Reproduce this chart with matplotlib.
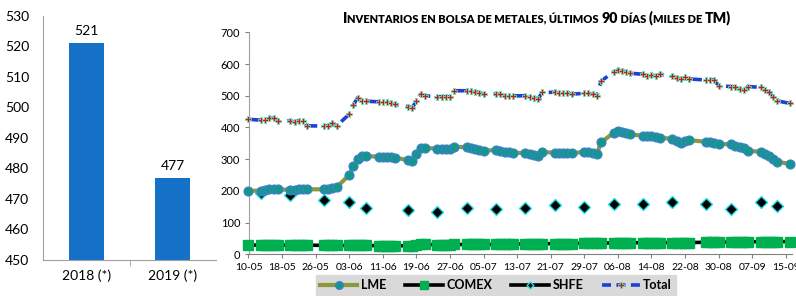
import matplotlib
matplotlib.use('Agg')
import matplotlib.pyplot as plt
import matplotlib.dates as mdates
from matplotlib.lines import Line2D
import pandas as pd

plt.rcParams['font.family'] = ['Lato', 'DejaVu Sans']

# ---- datos: barras (promedio anual) ----
anios = ['2018 (*)', '2019 (*)']
promedio = [521, 477]

# ---- datos: inventarios diarios (miles de TM) ----
fechas = pd.bdate_range('2019-05-10', '2019-09-16')
fechas = fechas.drop(pd.to_datetime(['2019-05-27', '2019-08-26']))  # feriados LME

lme = [200,
       201, 203, 205, 205, 205,
       203, 204, 205, 205, 205,
       205, 207, 210, 212,
       250, 278, 300, 310, 310,
       308, 307, 306, 306, 305,
       297, 294, 315, 336, 336,
       333, 333, 333, 333, 340,
       337, 336, 332, 329, 327,
       329, 327, 324, 322, 320,
       320, 316, 313, 310, 322,
       321, 320, 318, 318, 318,
       324, 324, 320, 316, 353,
       383, 389, 385, 383, 378,
       374, 373, 372, 370, 368,
       364, 357, 352, 357, 360,
       355, 353, 352, 348,
       347, 342, 338, 334, 326,
       324, 316, 310, 302, 292,
       285]

comex = [29,
         29, 29, 29, 29, 29,
         29, 29, 29, 29, 29,
         28, 28, 28, 28,
         28, 28, 28, 28, 28,
         27, 27, 27, 27, 27,
         27, 27, 28, 33, 31,
         30, 30, 30, 30, 31,
         31, 31, 31, 31, 31,
         31, 32, 32, 32, 32,
         33, 33, 33, 33, 33,
         34, 34, 34, 34, 34,
         35, 35, 35, 35, 35,
         36, 36, 36, 36, 36,
         37, 37, 37, 37, 37,
         37, 37, 37, 37, 37,
         38, 38, 38, 38,
         39, 39, 39, 39, 39,
         40, 40, 40, 40, 40,
         40]

total = [426,
         423, 423, 429, 429, 421,
         420, 418, 421, 420, 405,
         405, 405, 413, 405,
         442, 471, 494, 483, 483,
         481, 479, 479, 476, 473,
         466, 462, 484, 505, 500,
         497, 497, 497, 497, 516,
         516, 516, 513, 510, 505,
         505, 505, 500, 500, 500,
         500, 497, 494, 490, 511,
         511, 508, 508, 510, 505,
         508, 508, 505, 500, 546,
         576, 581, 578, 576, 571,
         568, 563, 565, 563, 568,
         563, 557, 553, 560, 553,
         550, 550, 550, 532,
         529, 527, 521, 518, 529,
         527, 518, 511, 495, 484,
         476]

shfe_fechas = pd.to_datetime(['2019-05-13', '2019-05-20', '2019-05-28', '2019-06-03', '2019-06-07',
                              '2019-06-17', '2019-06-24', '2019-07-01', '2019-07-08', '2019-07-15',
                              '2019-07-22', '2019-07-29', '2019-08-05', '2019-08-12', '2019-08-19',
                              '2019-08-27', '2019-09-02', '2019-09-09', '2019-09-13'])
shfe = [194, 187, 171, 164, 145, 140, 134, 147, 142, 145,
        155, 150, 158, 158, 164, 158, 143, 164, 153]

W, H = 796, 296
fig = plt.figure(figsize=(W / 100, H / 100), dpi=100)

# ================= barras =================
ax1 = fig.add_axes([43 / W, 1 - 260 / H, 173 / W, 244 / H])
ax1.bar(range(len(anios)), promedio, width=0.4, color='#1570c8')
for i, v in enumerate(promedio):
    ax1.text(i, v + 2, str(v), ha='center', va='bottom', fontsize=10)
ax1.set_ylim(450, 530)
ax1.set_yticks(range(450, 531, 10))
ax1.set_xlim(-0.5, 1.5)
ax1.set_xticks(range(len(anios)))
ax1.set_xticklabels(anios)
ax1.set_xticks([0.5], minor=True)
ax1.tick_params(axis='x', which='major', length=0, pad=7, labelsize=10)
ax1.tick_params(axis='x', which='minor', length=4, color='#a0a0a0')
ax1.tick_params(axis='y', length=0, labelsize=10, pad=10)
for s in ['top', 'right']:
    ax1.spines[s].set_visible(False)
ax1.spines['left'].set_color('#a0a0a0')
ax1.spines['bottom'].set_color('#a0a0a0')

# ================= lineas =================
ax2 = fig.add_axes([248.5 / W, 1 - 254.3 / H, 543.5 / W, 221.9 / H])
x0 = pd.Timestamp('2019-05-10')
ax2.set_xlim(x0, x0 + pd.Timedelta(days=129.5))
ax2.set_ylim(0, 700)

ax2.plot(fechas, comex, color='black', lw=2.6, marker='s', ms=6.5,
         mfc='#00b050', mec='#00b050', clip_on=False, zorder=3)
ax2.plot(shfe_fechas, shfe, ls='none', marker='D', ms=6.5, mfc='black',
         mec='#22e0e8', mew=1.0, zorder=3)
ax2.plot(fechas, lme, color='#8a9a3a', lw=3, marker='o', ms=6.5,
         mfc='#13978a', mec='#3f7fcf', mew=0.8, clip_on=False, zorder=4)
ax2.plot(fechas, total, color='#1f3fd6', lw=2.6, ls=(0, (3.5, 2)), marker='P', ms=4.2,
         mfc='#e01010', mec='#5ee8c0', mew=0.6, clip_on=False, zorder=5)

ax2.set_yticks(range(0, 701, 100))
ticks = pd.date_range('2019-05-10', '2019-09-15', freq='8D')
ax2.set_xticks(ticks)
ax2.xaxis.set_major_formatter(mdates.DateFormatter('%d-%m'))
ax2.tick_params(axis='x', length=3, color='#808080', labelsize=7.5, pad=3)
ax2.tick_params(axis='y', length=3, color='#808080', labelsize=8, pad=3)
for s in ['top', 'right']:
    ax2.spines[s].set_visible(False)
ax2.spines['left'].set_color('#a0a0a0')
ax2.spines['bottom'].set_color('#808080')

# titulo en versalitas
trozos = [('I', 10.2), ('NVENTARIOS EN BOLSA DE METALES, ÚLTIMOS ', 7.9), ('90', 10.2),
          (' DÍAS ', 7.9), ('(', 10.2), ('MILES DE ', 7.9), ('TM)', 10.2)]
prev = fig.text(343 / W, 1 - 25 / H, trozos[0][0], fontsize=trozos[0][1],
                fontweight='heavy', va='bottom', ha='left')
for t, fs in trozos[1:]:
    prev = ax2.annotate(t, xy=(1, 0), xycoords=prev, va='bottom', ha='left',
                        fontsize=fs, fontweight='heavy', annotation_clip=False)

# leyenda
handles = [
    Line2D([], [], color='#8a9a3a', lw=3, marker='o', ms=5.5, mfc='#13978a', mec='#3f7fcf'),
    Line2D([], [], color='black', lw=2.6, marker='s', ms=5.5, mfc='#00b050', mec='#00b050'),
    Line2D([], [], color='black', lw=2.6, marker='D', ms=3.5, mfc='black', mec='#22e0e8'),
    Line2D([], [], color='#1f3fd6', lw=2.6, ls=(0, (2.5, 1.5)), marker='P', ms=4.2,
           mfc='#e01010', mec='#5ee8c0', mew=0.6),
]
leg = fig.legend(handles, ['LME', 'COMEX', 'SHFE', 'Total'], ncol=4,
                 loc='lower center', bbox_to_anchor=(496 / W, -0.02),
                 frameon=True, fancybox=False, facecolor='#d9d9d9', edgecolor='#d9d9d9',
                 framealpha=1, handlelength=3.0, columnspacing=1.5, handletextpad=0.3,
                 borderpad=0.35, prop={'size': 9, 'weight': 'bold'})

fig.savefig('out.png', dpi=100)
